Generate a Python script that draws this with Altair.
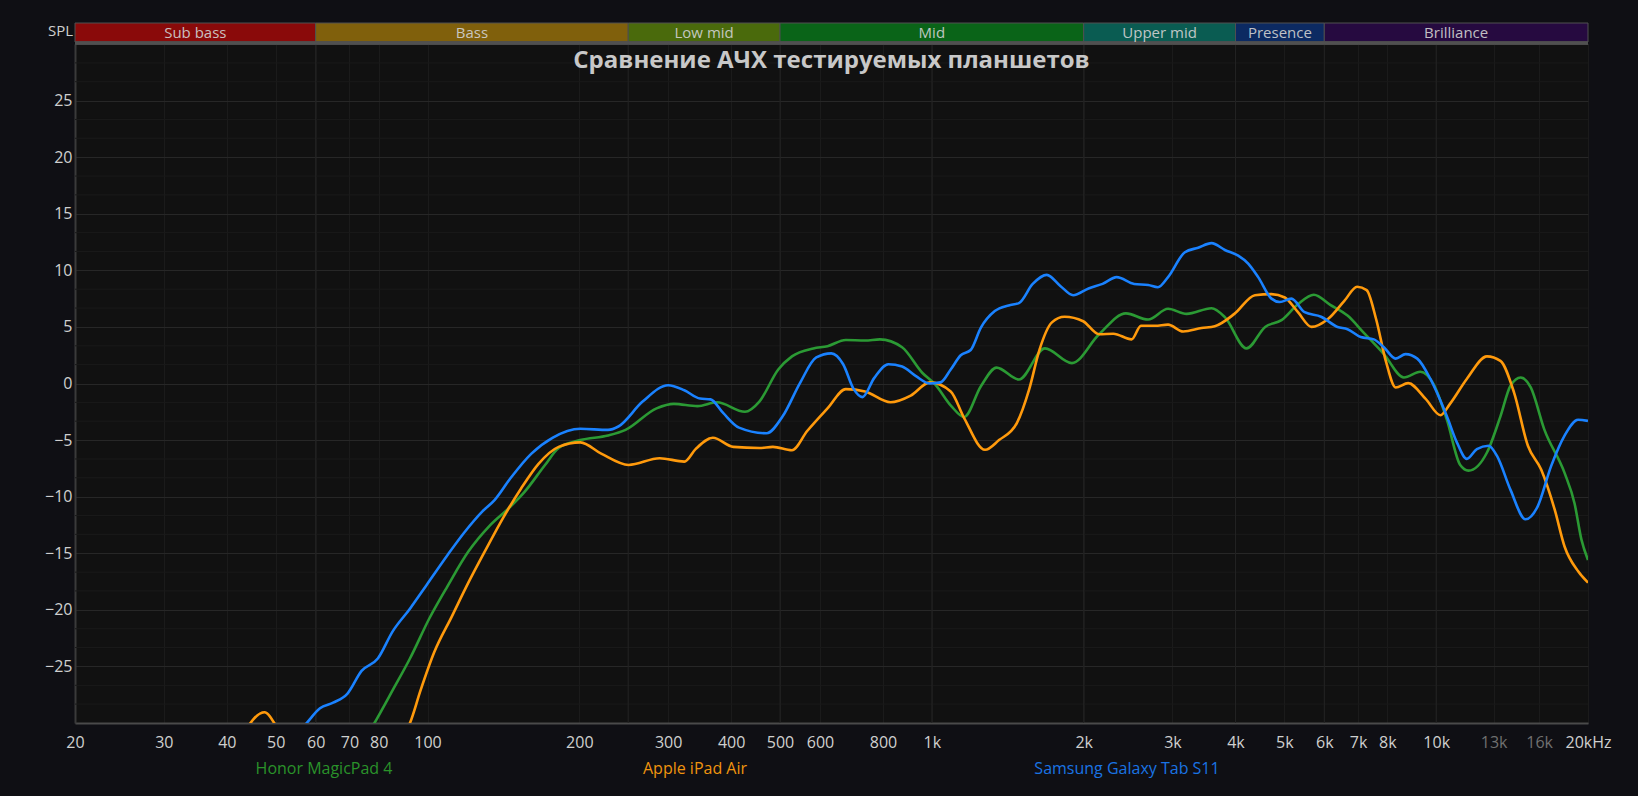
import altair as alt
import pandas as pd

# ---- data ----
samsung_f = [55, 57.6, 61.2, 65, 69.4, 74, 79.7, 85.3, 92.3, 99.6, 109.6, 118.6, 128.5, 135.8, 145.9,
             160.7, 176.9, 200.9, 228, 239, 267, 300, 323, 347, 364, 385.6, 414.6, 470, 506, 548,
             590, 632, 667, 700, 728, 769, 820, 873, 930, 991, 1040, 1090, 1141, 1194, 1251, 1333,
             1420, 1488, 1585, 1690, 1800, 1906, 2045, 2180, 2325, 2518, 2686, 2807, 2940, 3175,
             3373, 3586, 3811, 4050, 4239, 4437, 4714, 4897, 5162, 5485, 5912, 6374, 6671, 7085,
             7524, 7875, 8310, 8697, 9173, 9740, 10500, 10990, 11500, 12040, 12700, 13200, 14040,
             15040, 15880, 16900, 17970, 19120, 20000]
samsung_db = [-31, -30, -28.7, -28.2, -27.4, -25.4, -24.3, -21.9, -19.9, -17.8, -15.15, -13.1, -11.3, -10.3, -8.4,
              -6.2, -4.8, -4.0, -4.1, -3.8, -1.6, -0.15, -0.6, -1.33, -1.4, -2.6, -3.9, -4.4, -2.9, 0.06,
              2.3, 2.66, 1.7, -0.5, -1.2, 0.5, 1.7, 1.5, 0.65, 0.0, 0.1, 1.24, 2.5, 2.96, 4.94, 6.4,
              6.9, 7.1, 8.8, 9.6, 8.6, 7.8, 8.4, 8.8, 9.4, 8.8, 8.7, 8.5, 9.4, 11.6,
              12.0, 12.4, 11.8, 11.3, 10.6, 9.4, 7.5, 7.2, 7.5, 6.3, 5.9, 5.0, 4.8, 4.1,
              3.9, 3.2, 2.2, 2.6, 2.2, 0.4, -2.9, -5.2, -6.66, -5.8, -5.5, -6.4, -9.4,
              -12.0, -10.9, -7.3, -4.6, -3.2, -3.3]

honor_f = [75, 78.5, 85.3, 92.3, 101, 109.6, 120.5, 132.6, 145.9, 155.6, 171, 182, 200.9, 228, 247,
           284.5, 308, 343, 375, 426, 455, 496, 528, 582, 621, 675, 737, 789, 873, 957, 1016, 1093,
           1159, 1251, 1344, 1488, 1676, 1895, 2146, 2425, 2684, 2940, 3200, 3586, 3811, 4206, 4580,
           4935, 5320, 5720, 6165, 6671, 7180, 7875, 8630, 9300, 9880, 10500, 11160, 11590, 12610,
           13410, 14040, 14710, 15400, 16380, 17970, 18810, 19410, 20000]
honor_db = [-31.5, -30, -27.1, -24.3, -20.7, -17.9, -14.85, -12.6, -10.9, -9.6, -7.2, -5.7, -5.0, -4.6, -4.1,
            -2.2, -1.8, -2.0, -1.66, -2.5, -1.6, 1.24, 2.4, 3.1, 3.3, 3.85, 3.8, 3.9, 3.2, 0.95, -0.1, -2.0,
            -2.96, -0.24, 1.4, 0.35, 3.1, 1.8, 4.35, 6.2, 5.65, 6.6, 6.15, 6.65, 5.86, 3.1, 5.0,
            5.6, 7.0, 7.84, 6.95, 6.0, 4.5, 2.6, 0.53, 1.04, -0.06, -3.2, -7.2, -7.7, -6.1,
            -2.9, -0.2, 0.53, -0.35, -4.05, -7.9, -10.6, -13.8, -15.6]

apple_f = [43, 47.5, 52, 90, 92.3, 96.9, 103, 111.7, 120.5, 130.4, 141.5, 153.2, 166, 182, 200.9,
           221, 250.5, 288.6, 323, 340, 368, 404, 455, 484, 528, 566, 621, 675, 737, 828, 908, 991,
           1090, 1159, 1275, 1359, 1474, 1560, 1635, 1730, 1833, 1995, 2146, 2290, 2490, 2598, 2771,
           2940, 3151, 3425, 3640, 3980, 4371, 4714, 5010, 5320, 5660, 6102, 6575, 6972, 7280, 7600,
           7960, 8310, 8800, 9530, 10200, 10650, 11500, 12610, 13410, 14270, 15200, 16150, 17180,
           17970, 19120, 20000]
apple_db = [-31, -29.05, -31, -31, -30, -27.1, -23.8, -20.6, -17.6, -14.7, -11.8, -9.3, -7.1, -5.6, -5.2,
            -6.2, -7.2, -6.6, -6.9, -5.8, -4.8, -5.6, -5.7, -5.6, -5.9, -4.2, -2.2, -0.5, -0.7, -1.66, -1.07, 0.1,
            -0.7, -3.05, -5.86, -5.0, -3.5, -0.5, 3.0, 5.4, 5.9, 5.5, 4.35, 4.4, 3.9, 5.1, 5.1,
            5.2, 4.6, 4.9, 5.06, 6.15, 7.8, 7.9, 7.6, 6.3, 5.0, 5.7, 7.3, 8.55, 8.25, 5.7,
            1.86, -0.35, 0.03, -1.36, -2.8, -1.8, 0.4, 2.4, 2.0, -0.8, -5.5, -7.6, -11.15,
            -14.4, -16.6, -17.6]

series_names = ["Honor MagicPad 4", "Apple iPad Air", "Samsung Galaxy Tab S11"]
series_colors = ["#2b9a34", "#ff9a0c", "#1a82ff"]
legend_colors = ["#2a922a", "#f0940e", "#1a74e4"]

bands = ["Sub bass", "Bass", "Low mid", "Mid", "Upper mid", "Presence", "Brilliance"]
band_lo = [20, 60, 250, 500, 2000, 4000, 6000]
band_hi = [60, 250, 500, 2000, 4000, 6000, 20000]
band_colors = ["#8a0a0a", "#80600c", "#4a6a0c", "#0a6418", "#0a5c52", "#0c2a62", "#260a40"]

tick_vals = [20, 30, 40, 50, 60, 70, 80, 100, 200, 300, 400, 500, 600, 800, 1000, 2000, 3000, 4000,
             5000, 6000, 7000, 8000, 10000, 13000, 16000, 20000]
tick_labels = ["20", "30", "40", "50", "60", "70", "80", "100", "200", "300", "400", "500", "600", "800",
               "1k", "2k", "3k", "4k", "5k", "6k", "7k", "8k", "10k", "13k", "16k", "20kHz"]
y_vals = [-25, -20, -15, -10, -5, 0, 5, 10, 15, 20, 25]
y_minor = [-28.33, -26.67, -23.33, -21.67, -18.33, -16.67, -13.33, -11.67, -8.33, -6.67, -3.33, -1.67,
           1.67, 3.33, 6.67, 8.33, 11.67, 13.33, 16.67, 18.33, 21.67, 23.33, 26.67, 28.33]
x_bright = [60, 250, 500, 1000, 2000, 4000, 6000, 10000]

title_text = "Сравнение АЧХ тестируемых планшетов"

W, H = 1513, 679
FONT = "Open Sans"

x_scale = alt.Scale(type="log", domain=[20, 20000], nice=False)
y_scale = alt.Scale(domain=[-30, 30], nice=False)

label_expr = ("[" + ",".join("'%s'" % t for t in tick_labels) + "][indexof([" +
              ",".join(str(v) for v in tick_vals) + "], datum.value)]")

x_axis = alt.Axis(values=tick_vals, labelExpr=label_expr, title=None, ticks=False,
                  labelFontSize=16, labelFont=FONT,
                  labelColor=alt.condition("datum.value == 13000 || datum.value == 16000",
                                           alt.value("#707070"), alt.value("#cfcfcf")),
                  labelPadding=11, labelFlush=False, labelOverlap=False, labelBound=False,
                  domainColor="#4a4a4a", domainWidth=2, gridColor="#1b1b1b", grid=True)
y_axis = alt.Axis(values=y_vals, title=None, ticks=False, domain=True, domainColor="#3a3a3a",
                  domainWidth=2, labelFontSize=16, labelFont=FONT, labelColor="#cfcfcf",
                  labelPadding=3, gridColor="#272727", grid=True)


def X(field):
    return alt.X(field, scale=x_scale, axis=x_axis)


def Y(field):
    return alt.Y(field, scale=y_scale, axis=y_axis)


# grid layers
minor_df = pd.DataFrame({"v": y_minor})
minor = alt.Chart(minor_df).mark_rule(color="#1a1a1a", strokeWidth=1).encode(y=Y("v:Q"))
bright_df = pd.DataFrame({"f": x_bright})
bright = alt.Chart(bright_df).mark_rule(color="#232323", strokeWidth=1).encode(x=X("f:Q"))

# lines
line_layers = []
for name, fs, ds, col in [(series_names[0], honor_f, honor_db, series_colors[0]),
                          (series_names[1], apple_f, apple_db, series_colors[1]),
                          (series_names[2], samsung_f, samsung_db, series_colors[2])]:
    d = pd.DataFrame({"freq": fs, "db": ds, "series": name})
    line_layers.append(
        alt.Chart(d).mark_line(clip=True, interpolate="monotone", strokeWidth=2.6, color=col).encode(
            x=X("freq:Q"), y=Y("db:Q"))
    )

# frequency band strip
band_df = pd.DataFrame({"band": bands, "lo": band_lo, "hi": band_hi, "color": band_colors})
band_df["mid"] = (band_df["lo"] * band_df["hi"]) ** 0.5
band_rect = alt.Chart(band_df).mark_rect(stroke="#505050", strokeWidth=1).encode(
    x=X("lo:Q"), x2="hi:Q",
    y=alt.value(-21), y2=alt.value(-2),
    fill=alt.Fill("color:N", scale=None))
band_bar = alt.Chart(band_df).mark_rule(color="#505050", strokeWidth=2.5).encode(
    x=alt.value(0), x2=alt.value(W), y=alt.value(-1))
band_text = alt.Chart(band_df).mark_text(fontSize=15, font=FONT, color="#d2d2d2", opacity=0.9,
                                         baseline="middle").encode(
    x=X("mid:Q"), y=alt.value(-11), text="band:N")

spl = alt.Chart(pd.DataFrame({"t": ["SPL"]})).mark_text(fontSize=15, font=FONT, color="#cfcfcf",
                                                         align="right", baseline="middle").encode(
    x=alt.value(-2), y=alt.value(-13), text="t:N")

title = alt.Chart(pd.DataFrame({"t": [title_text]})).mark_text(
    fontSize=24, font=FONT, fontWeight="bold", color="#c8c8c8", baseline="middle").encode(
    x=alt.value(W / 2), y=alt.value(17), text="t:N")

legend_x = [249, 620, 1052]
legend_layers = []
for name, col, lx in zip(series_names, legend_colors, legend_x):
    legend_layers.append(
        alt.Chart(pd.DataFrame({"t": [name]})).mark_text(
            fontSize=16, font=FONT, color=col, baseline="middle").encode(
            x=alt.value(lx), y=alt.value(H + 46), text="t:N"))

chart = alt.layer(minor, bright, *line_layers, band_rect, band_bar, band_text, spl, title,
                  *legend_layers).properties(
    width=W, height=H, background="#0f0f14",
    padding={"left": 67, "top": 36, "right": 42, "bottom": 65},
    autosize=alt.AutoSizeParams(type="none"),
).configure_view(fill="#111111", stroke="#333333", strokeWidth=1)

try:
    import jinja2
    from altair.utils.html import HTML_TEMPLATE

    class DarkPageTemplate(jinja2.Template):
        def render(self, *args, **kwargs):
            html = HTML_TEMPLATE.render(*args, **kwargs)
            return html.replace("<head>", "<head><style>body{background:#0f0f14;}</style>", 1)

    chart.save("out.html", embed_options={"renderer": "svg", "actions": False},
               template=DarkPageTemplate("x"))
except Exception:
    chart.save("out.html", embed_options={"renderer": "svg", "actions": False})
